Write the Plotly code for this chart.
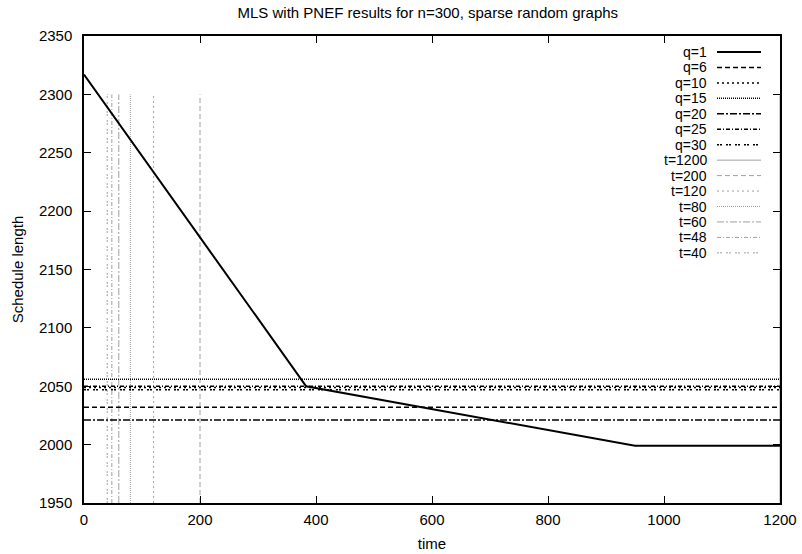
import plotly.graph_objects as go

# ---- data ----
q1_time = [0, 383, 950, 1200]
q1_len = [2317, 2050, 1999, 1999]

q_labels = ["q=6", "q=10", "q=15", "q=20", "q=25", "q=30"]
q_levels = [2032, 2049, 2056, 2021, 2050, 2047]

t_labels = ["t=1200", "t=200", "t=120", "t=80", "t=60", "t=48", "t=40"]
t_values = [1200, 200, 120, 80, 60, 48, 40]
t_top = 2300
y_bottom = 1950

x_range = [0, 1200]
y_range = [1950, 2350]
x_ticks = [0, 200, 400, 600, 800, 1000, 1200]
y_ticks = [1950, 2000, 2050, 2100, 2150, 2200, 2250, 2300, 2350]

# ---- styles ----
q_dash = {
    "q=1": "solid",
    "q=6": "5px,3px",
    "q=10": "2px,3px",
    "q=15": "1px,1px",
    "q=20": "7px,2px,2px,2px",
    "q=25": "4px,2px,1px,2px",
    "q=30": "2px,1px,2px,4px",
}
t_dash = {
    "t=1200": "solid",
    "t=200": "5px,3px",
    "t=120": "2px,3px",
    "t=80": "1px,1px",
    "t=60": "7px,2px,2px,2px",
    "t=48": "4px,2px,1px,2px",
    "t=40": "2px,1px,2px,4px",
}
BLACK = "#000000"
GRAY = "#a0a0a0"
FONT = "Liberation Sans, Arial, sans-serif"
FS = 15
LEG_FS = 14

fig = go.Figure()

# t vertical lines (gray)
for lab, tv in zip(t_labels, t_values):
    fig.add_trace(go.Scatter(
        x=[tv, tv], y=[y_bottom, t_top], mode="lines",
        line=dict(color=GRAY, width=1, dash=t_dash[lab]),
        name=lab, showlegend=False, hoverinfo="skip"))

# q horizontal lines
for lab, lv in zip(q_labels, q_levels):
    fig.add_trace(go.Scatter(
        x=x_range, y=[lv, lv], mode="lines",
        line=dict(color=BLACK, width=1.5, dash=q_dash[lab]),
        name=lab, showlegend=False, hoverinfo="skip"))

# q=1 main line
fig.add_trace(go.Scatter(
    x=q1_time, y=q1_len, mode="lines",
    line=dict(color=BLACK, width=2, dash="solid"),
    name="q=1", showlegend=False, hoverinfo="skip"))

# ---- manual gnuplot-style legend (text right, sample on the right) ----
legend_entries = [("q=1", BLACK, q_dash["q=1"], 2)]
legend_entries += [(l, BLACK, q_dash[l], 1.5) for l in ["q=6", "q=10", "q=15", "q=20", "q=25", "q=30"]]
legend_entries += [(l, GRAY, t_dash[l], 1) for l in t_labels]

# plot area in page pixels
L, R, T, B = 84, 780, 36, 503
W, H = R - L, B - T
FIG_W, FIG_H = 802, 554

def px(xp):
    return (xp - L) / W

def py(yp):
    return (B - yp) / H

row0 = 52.0
row_step = 15.45
for i, (lab, col, dash, wd) in enumerate(legend_entries):
    yp = row0 + i * row_step
    fig.add_annotation(
        x=px(708), y=py(yp), xref="paper", yref="paper",
        text=lab, showarrow=False, xanchor="right", yanchor="middle",
        borderpad=0, font=dict(family=FONT, size=LEG_FS, color="#000000"))
    fig.add_shape(
        type="line", xref="paper", yref="paper",
        x0=px(717), x1=px(761), y0=py(yp), y1=py(yp),
        line=dict(color=col, width=wd, dash=dash))

axis_common = dict(
    showgrid=False, zeroline=False, showline=True, linecolor=BLACK, linewidth=1.5,
    mirror="allticks", ticks="inside", ticklen=7, tickwidth=1.2, tickcolor=BLACK,
    tickfont=dict(family=FONT, size=FS, color="#000000"),
)

fig.update_layout(
    width=FIG_W, height=FIG_H,
    margin=dict(l=L, r=FIG_W - R, t=T, b=FIG_H - B),
    plot_bgcolor="white", paper_bgcolor="white",
    title=dict(text="MLS with PNEF results for n=300, sparse random graphs",
               x=0.494, xref="paper", y=1 - 13 / FIG_H, yanchor="middle",
               font=dict(family=FONT, size=FS, color="#000000")),
    xaxis=dict(range=x_range, tickvals=x_ticks, automargin=False, ticklabelstandoff=2,
               title=dict(text="time", standoff=12,
                          font=dict(family=FONT, size=FS, color="#000000")), **axis_common),
    yaxis=dict(range=y_range, tickvals=y_ticks, automargin=False, ticklabelstandoff=7,
               title=dict(text="Schedule length", standoff=12,
                          font=dict(family=FONT, size=FS, color="#000000")), **axis_common),
    showlegend=False,
)

fig.write_html("out.html",
               config={"displayModeBar": False},
               post_script="document.body.style.margin='0px';document.body.style.overflow='hidden';")
